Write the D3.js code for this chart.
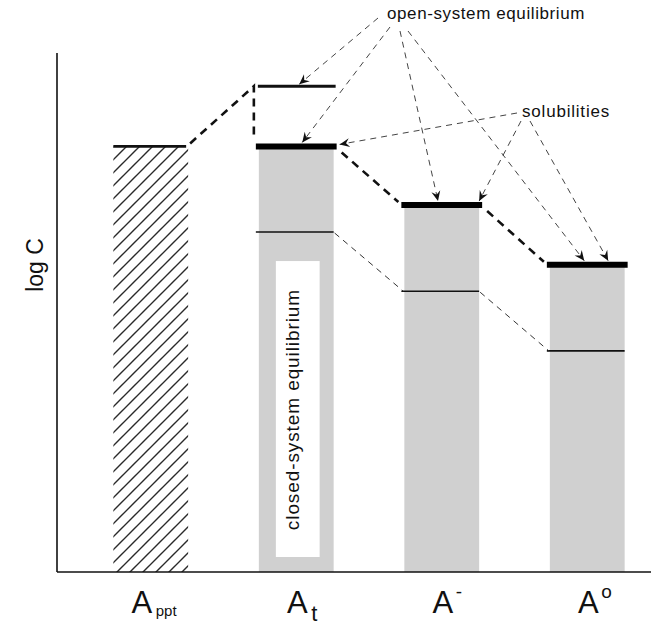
<!DOCTYPE html>
<html>
<head>
<meta charset="utf-8">
<script src="https://cdn.jsdelivr.net/npm/d3@7"></script>
<style>
  body { margin: 0; background: #fff; }
  text { font-family: "Liberation Sans", Arial, Helvetica, sans-serif; fill: #111; }
</style>
</head>
<body>
<svg id="chart" width="651" height="635"></svg>
<script>
// Species shown along the horizontal axis
const species = ["Appt", "At", "Aminus", "Azero"];
const labelBase = ["A", "A", "A", "A"];
const labelSub = ["ppt", "t", "", ""];
const labelSup = ["", "", "-", "o"];

// log C levels (arbitrary units) for each species
const solubility   = [8.2, 8.2, 7.07, 5.92];   // solubility limit (top of each column)
const closedSystem = [null, 6.55, 5.41, 4.26];  // closed-system equilibrium level
const openSystem   = [null, 9.36, null, null];  // open-system equilibrium level
const yDomain = [0, 10];

// Annotation arrows: target species index, level, relative position along the column
const openArrowTargets = [
  { i: 1, level: "open", f: 0.54 },
  { i: 1, level: "sol",  f: 0.58 },
  { i: 2, level: "sol",  f: 0.45 },
  { i: 3, level: "sol",  f: 0.46 }
];
const solArrowTargets = [
  { i: 1, level: "sol", f: 1.08 },
  { i: 2, level: "sol", f: 1.0 },
  { i: 3, level: "sol", f: 0.78 }
];

const svg = d3.select("#chart");
const axisX = 57, axisBottom = 572, axisTop = 53, rightEdge = 651;

const x = d3.scaleBand()
  .domain(species)
  .range([78, 660])
  .paddingInner(0.486)
  .paddingOuter(0.243);
const y = d3.scaleLinear().domain(yDomain).range([axisBottom, axisTop]);
const bw = x.bandwidth();
const cx = i => x(species[i]) + bw / 2;

const levelOf = { sol: solubility, closed: closedSystem, open: openSystem };

// hatch pattern for the precipitate column
const defs = svg.append("defs");
defs.append("pattern")
  .attr("id", "hatch")
  .attr("patternUnits", "userSpaceOnUse")
  .attr("width", 13).attr("height", 13)
  .append("path")
  .attr("d", "M-2,2 L2,-2 M0,13 L13,0 M11,15 L15,11")
  .attr("stroke", "#2a2a2a")
  .attr("stroke-width", 1.4);

// barbed arrowhead
defs.append("marker")
  .attr("id", "barb")
  .attr("viewBox", "-11 -5 12 10")
  .attr("refX", 0).attr("refY", 0)
  .attr("markerWidth", 12).attr("markerHeight", 10)
  .attr("markerUnits", "userSpaceOnUse")
  .attr("orient", "auto")
  .append("path")
  .attr("d", "M0,0 L-10,-4.5 L-6.5,0 L-10,4.5 Z")
  .attr("fill", "#111");

// solution columns (gray) for dissolved species
const dissolved = species.map((s, i) => ({ s, i })).filter(d => d.i > 0);
svg.append("g").selectAll("rect")
  .data(dissolved)
  .join("rect")
  .attr("x", d => x(d.s))
  .attr("y", d => y(solubility[d.i]))
  .attr("width", bw)
  .attr("height", d => y(yDomain[0]) - y(solubility[d.i]))
  .attr("fill", "#d0d0d0");

// precipitate column (hatched)
svg.append("rect")
  .attr("x", x(species[0]))
  .attr("y", y(solubility[0]))
  .attr("width", bw)
  .attr("height", y(yDomain[0]) - y(solubility[0]))
  .attr("fill", "url(#hatch)");

// white label box inside the total-concentration column
const boxTop = y(closedSystem[1]) + 29;
const boxBottom = axisBottom - 15;
const boxX = x(species[1]) + 17, boxW = bw - 31;
svg.append("rect")
  .attr("x", boxX)
  .attr("y", boxTop)
  .attr("width", boxW)
  .attr("height", boxBottom - boxTop)
  .attr("fill", "#fff");
svg.append("text")
  .attr("transform", `translate(${boxX + boxW / 2 + 1},${boxTop + 28}) rotate(-90)`)
  .attr("text-anchor", "end")
  .attr("font-size", 19)
  .attr("letter-spacing", 0.9)
  .text("closed-system equilibrium");

// axes
svg.append("line")
  .attr("x1", axisX).attr("x2", axisX)
  .attr("y1", axisTop).attr("y2", axisBottom)
  .attr("stroke", "#111").attr("stroke-width", 1.6);
svg.append("line")
  .attr("x1", axisX).attr("x2", rightEdge)
  .attr("y1", axisBottom).attr("y2", axisBottom)
  .attr("stroke", "#111").attr("stroke-width", 1.6);

// closed-system levels (thin lines)
const closedPts = dissolved.filter(d => closedSystem[d.i] != null);
svg.append("g").selectAll("line")
  .data(closedPts)
  .join("line")
  .attr("x1", d => x(d.s) - 3).attr("x2", d => x(d.s) + bw)
  .attr("y1", d => y(closedSystem[d.i])).attr("y2", d => y(closedSystem[d.i]))
  .attr("stroke", "#111").attr("stroke-width", 1.6);

// open-system level (medium line)
svg.append("line")
  .attr("x1", x(species[1]) - 1).attr("x2", x(species[1]) + bw + 2)
  .attr("y1", y(openSystem[1])).attr("y2", y(openSystem[1]))
  .attr("stroke", "#111").attr("stroke-width", 3);

// solubility levels (thick lines)
svg.append("g").selectAll("line")
  .data(dissolved)
  .join("line")
  .attr("x1", d => x(d.s) - 3).attr("x2", d => x(d.s) + bw + 3)
  .attr("y1", d => y(solubility[d.i])).attr("y2", d => y(solubility[d.i]))
  .attr("stroke", "#000").attr("stroke-width", 6);
svg.append("line")
  .attr("x1", x(species[0])).attr("x2", x(species[0]) + bw - 2)
  .attr("y1", y(solubility[0])).attr("y2", y(solubility[0]))
  .attr("stroke", "#111").attr("stroke-width", 2.6);

// heavy dashed connectors between solubility levels
const heavy = svg.append("g")
  .attr("fill", "none").attr("stroke", "#111")
  .attr("stroke-width", 2.6).attr("stroke-dasharray", "8,6");
const xLeftEdge = i => x(species[i]) - 5;
heavy.append("path")
  .attr("d", d3.line()([
    [x(species[0]) + bw + 2, y(solubility[0]) - 3],
    [xLeftEdge(1), y(openSystem[1])],
    [xLeftEdge(1), y(solubility[1]) - 8]
  ]));
for (let i = 1; i < 3; i++) {
  heavy.append("line")
    .attr("x1", x(species[i]) + bw + 8).attr("y1", y(solubility[i]) + 6)
    .attr("x2", x(species[i + 1]) - 6).attr("y2", y(solubility[i + 1]) - 3);
}

// light dashed connectors between closed-system levels
const light = svg.append("g")
  .attr("fill", "none").attr("stroke", "#333")
  .attr("stroke-width", 1).attr("stroke-dasharray", "6,5");
for (let i = 1; i < 3; i++) {
  light.append("line")
    .attr("x1", x(species[i]) + bw + 1).attr("y1", y(closedSystem[i]) + 1)
    .attr("x2", x(species[i + 1]) - 1).attr("y2", y(closedSystem[i + 1]));
}

// annotation labels
const openLabel = { x: 387, y: 19 };
const solLabel = { x: 522, y: 117 };
svg.append("text")
  .attr("x", openLabel.x).attr("y", openLabel.y)
  .attr("font-size", 17).attr("letter-spacing", 0.6)
  .text("open-system equilibrium");
svg.append("text")
  .attr("x", solLabel.x).attr("y", solLabel.y)
  .attr("font-size", 17).attr("letter-spacing", 0.8)
  .text("solubilities");

// annotation arrows
const openStarts = [[378, 18], [390, 27], [400, 31], [408, 31]];
const solStarts = [[517, 113], [521, 121], [530, 121]];
const tip = t => [x(species[t.i]) + bw * t.f, y(levelOf[t.level][t.i]) - (t.level === "open" ? 2 : 4)];
const arrows = svg.append("g")
  .attr("fill", "none").attr("stroke", "#444")
  .attr("stroke-width", 1).attr("stroke-dasharray", "6,5");
openArrowTargets.forEach((t, k) => {
  arrows.append("path")
    .attr("d", d3.line()([openStarts[k], tip(t)]))
    .attr("marker-end", "url(#barb)");
});
solArrowTargets.forEach((t, k) => {
  const p = tip(t);
  if (t.f > 1) p[1] = y(solubility[t.i]) - 2;
  arrows.append("path")
    .attr("d", d3.line()([solStarts[k], p]))
    .attr("marker-end", "url(#barb)");
});

// axis title
svg.append("text")
  .attr("transform", `translate(43,265) rotate(-90)`)
  .attr("text-anchor", "middle")
  .attr("font-size", 23)
  .text("log C");

// species labels: base letter centred under the column, sub/superscript to its right
const labelY = 613;
const baseShift = i => (labelSub[i] === "ppt" ? -9 : 1);
const lab = svg.append("g");
lab.selectAll("text.base")
  .data(species.map((s, i) => i))
  .join("text")
  .attr("class", "base")
  .attr("x", i => cx(i) + baseShift(i))
  .attr("y", labelY)
  .attr("text-anchor", "middle")
  .attr("font-size", 31)
  .text(i => labelBase[i]);
lab.selectAll("text.sub")
  .data(species.map((s, i) => i).filter(i => labelSub[i] !== ""))
  .join("text")
  .attr("class", "sub")
  .attr("x", i => cx(i) + baseShift(i) + 14)
  .attr("y", i => labelY + (labelSub[i] === "t" ? 8 : 3))
  .attr("font-size", i => (labelSub[i] === "t" ? 22 : 15))
  .text(i => labelSub[i]);
lab.selectAll("text.sup")
  .data(species.map((s, i) => i).filter(i => labelSup[i] !== ""))
  .join("text")
  .attr("class", "sup")
  .attr("x", i => cx(i) + baseShift(i) + 13)
  .attr("y", labelY - 15)
  .attr("font-size", 19)
  .text(i => labelSup[i]);
</script>
</body>
</html>
